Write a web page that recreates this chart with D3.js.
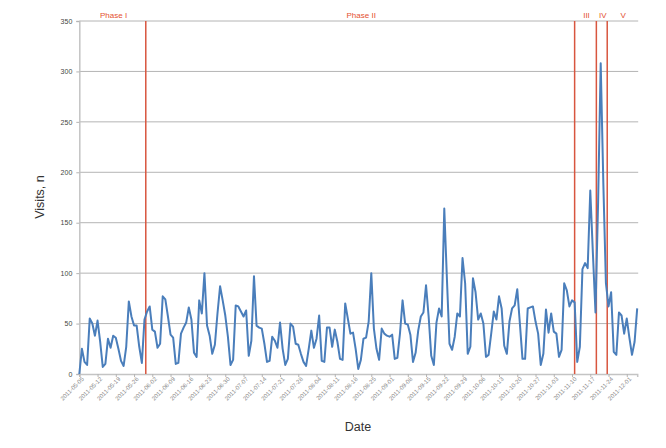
<!DOCTYPE html>
<html><head><meta charset="utf-8">
<script src="https://cdn.jsdelivr.net/npm/d3@7"></script>
<style>body{margin:0;background:#fff}svg{display:block}</style>
</head><body><svg id="c" width="666" height="448"></svg>
<script>
const startDate = "2011-05-05";
const visits = [
  0,25,12,9,55,50,38,53,32,7,
  10,35,26,38,36,25,13,8,27,72,
  57,48,48,27,11,54,62,67,44,42,
  26,30,77,74,57,39,36,10,11,40,
  46,51,66,54,21,17,73,60,100,48,
  38,20,29,60,87,73,58,37,9,14,
  68,67,62,57,63,18,33,97,48,46,
  45,30,12,13,37,33,26,51,25,9,
  15,50,47,30,29,20,12,8,25,43,
  26,35,58,13,12,46,46,27,44,32,
  15,14,70,55,40,41,25,5,14,35,
  36,52,100,45,25,14,45,40,38,37,
  39,15,16,40,73,50,49,39,12,21,
  43,57,61,88,57,18,9,51,65,57,
  164,95,30,24,37,60,57,115,90,20,
  27,95,81,54,60,50,17,19,40,62,
  54,77,65,28,20,52,65,68,84,50,
  15,15,65,66,67,52,40,9,20,64,
  41,60,42,40,17,24,90,83,67,73,
  71,12,27,104,110,105,182,120,61,170,
  308,190,90,67,81,22,19,61,58,40,
  55,36,19,32,65
];
const tickLabels = ["2011-05-05","2011-05-12","2011-05-19","2011-05-26","2011-06-02","2011-06-09","2011-06-16","2011-06-23","2011-06-30","2011-07-07","2011-07-14","2011-07-21","2011-07-28","2011-08-04","2011-08-11","2011-08-18","2011-08-25","2011-09-01","2011-09-08","2011-09-15","2011-09-22","2011-09-29","2011-10-06","2011-10-13","2011-10-20","2011-10-27","2011-11-03","2011-11-10","2011-11-17","2011-11-24","2011-12-01"];
const yTicks = [0,50,100,150,200,250,300,350];
const phaseNames = ["Phase I","Phase II","III","IV","V"];
const phaseBreaks = ["2011-05-30T12:00","2011-11-11T00:00","2011-11-19T08:00","2011-11-23T12:00"];

(function(){
const parse = d3.timeParse("%Y-%m-%d");
const parseT = d3.timeParse("%Y-%m-%dT%H:%M");
const t0 = parse(startDate);
const dates = visits.map((v,i)=>d3.timeDay.offset(t0,i));
const data = visits.map((v,i)=>({date:dates[i], value:v}));

const pL = 79.3, pR = 637.2, pT = 21, pB = 374;
const x = d3.scaleTime().domain([dates[0], dates[dates.length-1]]).range([pL, pR]);
const y = d3.scaleLinear().domain([0,350]).range([pB, pT]);

const svg = d3.select("#c");
const font = "'Liberation Sans', Arial, sans-serif";

// gridlines
svg.append("g").selectAll("line").data(yTicks.filter(d=>d>0)).join("line")
  .attr("x1", pL).attr("x2", pR + 1)
  .attr("y1", d=>y(d)).attr("y2", d=>y(d))
  .attr("stroke", "#b4b4b4").attr("stroke-width", 1);

// y axis
const ya = svg.append("g").attr("transform", `translate(${pL},0)`)
  .call(d3.axisLeft(y).tickValues(yTicks).tickSize(3).tickPadding(4));
ya.select(".domain").attr("stroke", "#c4c4c4").attr("stroke-width", 1.5);
ya.selectAll(".tick line").attr("stroke", "#b4b4b4");
ya.selectAll("text").attr("font-family", font).attr("font-size", 7).attr("fill", "#444");

// x axis
const xa = svg.append("g").attr("transform", `translate(0,${pB})`)
  .call(d3.axisBottom(x).tickValues(tickLabels.map(parse)).tickSize(3)
    .tickFormat(d3.timeFormat("%Y-%m-%d")));
xa.select(".domain").attr("stroke", "#c4c4c4").attr("stroke-width", 1.5);
xa.selectAll(".tick line").attr("stroke", "#b4b4b4");
xa.selectAll("text").attr("font-family", font).attr("font-size", 6).attr("fill", "#888")
  .attr("text-anchor", "end").attr("dy", "0.35em")
  .attr("transform", "translate(3,4) rotate(-45)").attr("x", 0).attr("y", 0);

// phase lines
const breaks = phaseBreaks.map(parseT);
svg.append("g").selectAll("line").data(breaks).join("line")
  .attr("x1", d=>x(d)).attr("x2", d=>x(d))
  .attr("y1", y(350)).attr("y2", y(0))
  .attr("stroke", "#d8563f").attr("stroke-width", 1.5);

// phase labels
const bounds = [dates[0], ...breaks, dates[dates.length-1]];
svg.append("g").selectAll("text").data(phaseNames).join("text")
  .attr("x", (d,i)=>(x(bounds[i]) + x(bounds[i+1]))/2 + 1)
  .attr("y", 18)
  .attr("text-anchor", "middle")
  .attr("font-family", font).attr("font-size", 8).attr("fill", "#e4502f")
  .text(d=>d);

// line
svg.append("path").datum(data)
  .attr("fill", "none").attr("stroke", "#4a7ebb").attr("stroke-width", 2)
  .attr("stroke-linejoin", "round")
  .attr("d", d3.line().x(d=>x(d.date)).y(d=>y(d.value)));

// axis titles
svg.append("text").attr("transform", "translate(43.5,197) rotate(-90)")
  .attr("text-anchor", "middle").attr("font-family", font).attr("font-size", 12.5)
  .attr("fill", "#333").text("Visits, n");
svg.append("text").attr("x", 358).attr("y", 431)
  .attr("text-anchor", "middle").attr("font-family", font).attr("font-size", 12.5)
  .attr("fill", "#333").text("Date");
})();
</script>
</body></html>
